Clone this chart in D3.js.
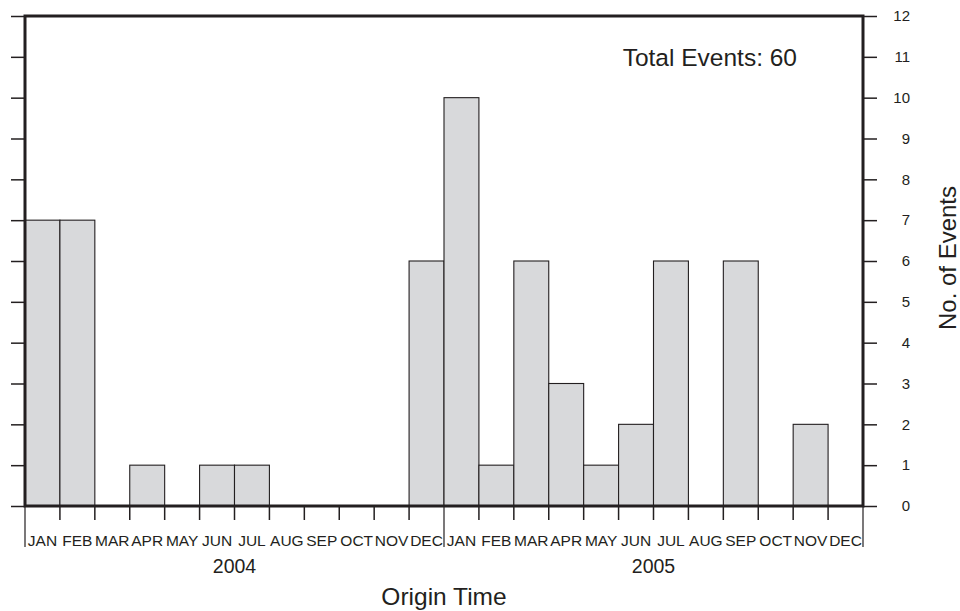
<!DOCTYPE html>
<html>
<head>
<meta charset="utf-8">
<script src="https://cdn.jsdelivr.net/npm/d3@7/dist/d3.min.js"></script>
<style>
  html, body { margin: 0; padding: 0; background: #fff; }
  svg { display: block; }
  svg text { font-family: "Liberation Sans", Arial, Helvetica, sans-serif; fill: #231f20; }
</style>
</head>
<body>
<svg id="chart" width="960" height="611"></svg>
<script>
// Monthly event counts, Jan 2004 – Dec 2005
const years = ["2004", "2005"];
const months = ["JAN", "FEB", "MAR", "APR", "MAY", "JUN", "JUL", "AUG", "SEP", "OCT", "NOV", "DEC"];
const counts2004 = [7, 7, 0, 1, 0, 1, 1, 0, 0, 0, 0, 6];
const counts2005 = [10, 1, 6, 3, 1, 2, 6, 0, 6, 0, 2, 0];
const yTicks = [0, 1, 2, 3, 4, 5, 6, 7, 8, 9, 10, 11, 12];

const bins = [];
years.forEach((yr, yi) => {
  const vals = yi === 0 ? counts2004 : counts2005;
  months.forEach((m, mi) => bins.push({ year: yr, month: m, idx: yi * 12 + mi, value: vals[mi] }));
});
const total = d3.sum(bins, d => d.value);

const svg = d3.select("#chart");
const plotLeft = 25, plotRight = 863, plotTop = 16, plotBottom = 506;

const x = d3.scaleLinear().domain([0, 24]).range([plotLeft, plotRight]);
const y = d3.scaleLinear().domain([0, 12]).range([plotBottom, plotTop]);

// Bars
svg.append("g")
  .selectAll("rect")
  .data(bins.filter(d => d.value > 0))
  .join("rect")
  .attr("x", d => x(d.idx))
  .attr("y", d => y(d.value))
  .attr("width", d => x(d.idx + 1) - x(d.idx))
  .attr("height", d => y(0) - y(d.value))
  .attr("fill", "#d8d9db")
  .attr("stroke", "#231f20")
  .attr("stroke-width", 1.1);

// Left axis: ticks only
const leftAxis = d3.axisLeft(y).tickValues(yTicks).tickSize(14).tickFormat("");
const gl = svg.append("g").attr("transform", `translate(${plotLeft},0)`).call(leftAxis);
gl.select(".domain").remove();
gl.selectAll("line").attr("stroke", "#231f20").attr("stroke-width", 1.5);

// Right axis: ticks and right-aligned labels
const rightAxis = d3.axisRight(y).tickValues(yTicks).tickSize(14).tickPadding(33).tickFormat(d3.format("d"));
const gr = svg.append("g").attr("transform", `translate(${plotRight},0)`).call(rightAxis);
gr.attr("font-family", null).attr("font-size", null);
gr.select(".domain").remove();
gr.selectAll("line").attr("stroke", "#231f20").attr("stroke-width", 1.5);
gr.selectAll("text")
  .attr("font-size", 15)
  .attr("text-anchor", "end")
  .attr("fill", "#231f20");

// Month boundary ticks below the baseline; year boundaries run longer
const boundaries = d3.range(0, 25);
svg.append("g").selectAll("line")
  .data(boundaries)
  .join("line")
  .attr("x1", d => x(d)).attr("x2", d => x(d))
  .attr("y1", plotBottom)
  .attr("y2", d => d % 12 === 0 ? plotBottom + 41 : plotBottom + 14)
  .attr("stroke", "#231f20")
  .attr("stroke-width", d => d % 12 === 0 ? 1.2 : 1.5);

// Frame
svg.append("rect")
  .attr("x", plotLeft).attr("y", plotTop)
  .attr("width", plotRight - plotLeft).attr("height", plotBottom - plotTop)
  .attr("fill", "none").attr("stroke", "#231f20").attr("stroke-width", 3);

// Month labels
svg.append("g").selectAll("text")
  .data(bins)
  .join("text")
  .attr("x", d => x(d.idx + 0.5))
  .attr("y", 546)
  .attr("text-anchor", "middle")
  .attr("font-size", 15.5)
  .text(d => d.month);

// Year labels
svg.append("g").selectAll("text")
  .data(years)
  .join("text")
  .attr("x", (d, i) => x(i * 12 + 6))
  .attr("y", 573)
  .attr("text-anchor", "middle")
  .attr("font-size", 19.5)
  .text(d => d);

// Axis titles
svg.append("text")
  .attr("x", (plotLeft + plotRight) / 2).attr("y", 605)
  .attr("text-anchor", "middle")
  .attr("font-size", 24.5)
  .text("Origin Time");

svg.append("text")
  .attr("transform", `translate(956,258) rotate(-90)`)
  .attr("text-anchor", "middle")
  .attr("font-size", 24)
  .text("No. of Events");

// Total annotation
svg.append("text")
  .attr("x", 797).attr("y", 66)
  .attr("text-anchor", "end")
  .attr("font-size", 24.5)
  .text(`Total Events: ${total}`);
</script>
</body>
</html>
